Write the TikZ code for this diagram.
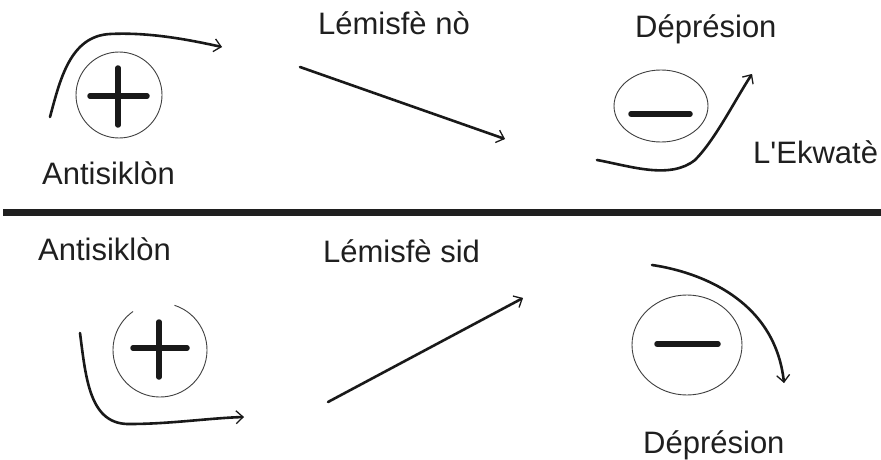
\documentclass[tikz,border=0pt]{standalone}
\usepackage{fontspec}
\setmainfont{Liberation Sans}
% same face without the TeX quote mapping, for a straight apostrophe
\newfontfamily\straightfont{Liberation Sans}
\usetikzlibrary{arrows.meta,shapes.geometric}
\begin{document}
\begin{tikzpicture}[x=1pt,y=-1pt,
  lbl/.style={anchor=base west,inner sep=0pt,text=black!88,font=\fontsize{31}{36}\selectfont},
  flow/.style={line width=2.6pt,black!90,line cap=round,-{Straight Barb[length=7pt,width=13pt,line width=1.3pt]}},
  ring/.style={draw=black!75,line width=0.9pt},
  sign/.style={line width=5.5pt,black!90,line cap=round}]
\useasboundingbox (0,0) rectangle (881,460);
\fill[white] (0,0) rectangle (881,460);

% ---- upper panel: northern hemisphere ----
\node[lbl] (nord) at (318,35) {Lémisfè nò};
\node[lbl] (antiA) at (42,184) {Antisiklòn};
\node[lbl] (depA) at (635,38) {Déprésion};
\node[lbl] (ekw) at (753,163) {\straightfont L'Ekwatè};

% high pressure cell
\node[ring,circle,minimum size=86pt,inner sep=0pt] (hiA) at (119,95) {};
\draw[sign] (90,96) -- (147,96);
\draw[sign] (118,68) -- (118,125);
\coordinate (hiAs) at (50,117);
\coordinate (hiAe) at (222,47);
\draw[flow] (hiAs) .. controls (60,80) and (70,36) .. (110,34)
  .. controls (150,32) and (190,40) .. (hiAe);

% drift arrow
\coordinate (nA) at (300,67);
\coordinate (nB) at (505,139);
\draw[flow] (nA) -- (nB);

% low pressure cell
\node[ring,ellipse,minimum width=94pt,minimum height=72pt,inner sep=0pt] (loA) at (661,106) {};
\draw[sign] (631,114) -- (690,114);
\coordinate (loAs) at (597,160);
\coordinate (loAe) at (752,74);
\draw[flow] (loAs) .. controls (630,166) and (670,180) .. (695,160)
  .. controls (715,140) and (735,100) .. (loAe);

% ---- divider ----
\coordinate (dl) at (3,212.5);
\coordinate (dr) at (881,212.5);
\draw[line width=7pt,black!88] (dl) -- (dr);

% ---- lower panel: southern hemisphere ----
\node[lbl] (antiB) at (38,260) {Antisiklòn};
\node[lbl] (sud) at (323,262) {Lémisfè sid};
\node[lbl] (depB) at (643,453) {Déprésion};

% high pressure cell, ring open at the top (y axis points down)
\coordinate (hiB) at (160,350);
\draw[ring] (hiB) ++(-72:47) arc[start angle=-72,end angle=235,radius=47];
\draw[sign] (133,348) -- (187,348);
\draw[sign] (159,322) -- (159,377);
\coordinate (hiBs) at (80,333);
\coordinate (hiBe) at (244,417);
\draw[flow] (hiBs) .. controls (86,380) and (90,425) .. (130,424)
  .. controls (170,424) and (210,418) .. (hiBe);

% drift arrow
\coordinate (sA) at (328,402);
\coordinate (sB) at (523,298);
\draw[flow] (sA) -- (sB);

% low pressure cell
\node[ring,ellipse,minimum width=110pt,minimum height=100pt,inner sep=0pt] (loB) at (687,345) {};
\draw[sign] (657,344) -- (718,344);
\coordinate (loBs) at (652,265);
\coordinate (loBe) at (784,383);
\draw[flow] (loBs) .. controls (700,272) and (775,300) .. (loBe);
\end{tikzpicture}
\end{document}
